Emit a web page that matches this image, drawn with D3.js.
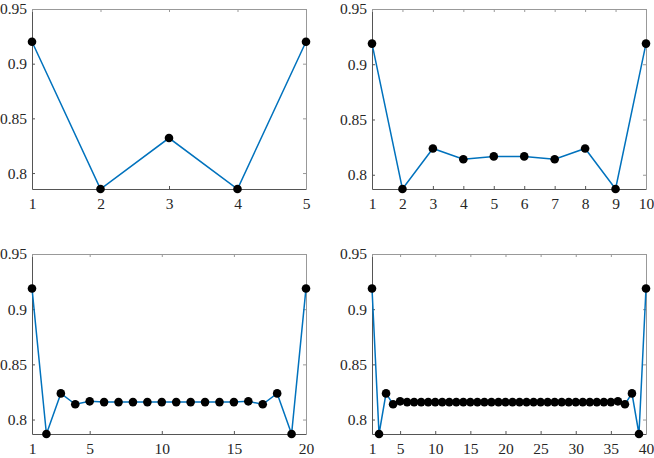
<!DOCTYPE html>
<html>
<head>
<meta charset="utf-8">
<script src="https://cdn.jsdelivr.net/npm/d3@7"></script>
<style>
  body { margin: 0; background: #fff; }
</style>
</head>
<body>
<svg id="chart" width="654" height="458"></svg>
<script>
// values
const vals5 = [0.92, 0.7854, 0.832, 0.7854, 0.92];
const vals10 = [0.9187, 0.7871, 0.8238, 0.8140, 0.8166, 0.8166, 0.8140, 0.8238, 0.7871, 0.9187];
const vals20 = [0.9188, 0.7869, 0.8237, 0.8138, 0.8165, 0.8158, 0.8158, 0.8158, 0.8158, 0.8158,
                0.8158, 0.8158, 0.8158, 0.8158, 0.8158, 0.8165, 0.8138, 0.8237, 0.7869, 0.9188];
const vals40 = [0.9188, 0.7869, 0.8237, 0.8138, 0.8165, 0.8158, 0.8158, 0.8158, 0.8158, 0.8158,
                0.8158, 0.8158, 0.8158, 0.8158, 0.8158, 0.8158, 0.8158, 0.8158, 0.8158, 0.8158,
                0.8158, 0.8158, 0.8158, 0.8158, 0.8158, 0.8158, 0.8158, 0.8158, 0.8158, 0.8158,
                0.8158, 0.8158, 0.8158, 0.8158, 0.8158, 0.8165, 0.8138, 0.8237, 0.7869, 0.9188];

const xTicks5 = [1, 2, 3, 4, 5];
const xTicks10 = [1, 2, 3, 4, 5, 6, 7, 8, 9, 10];
const xTicks20 = [1, 5, 10, 15, 20];
const xTicks40 = [1, 5, 10, 15, 20, 25, 30, 35, 40];
const yTicks = [0.8, 0.85, 0.9, 0.95];

const svg = d3.select("#chart");

function drawPanel(vals, xTicks, left, top) {
    const width = 274, height = 180;
    const g = svg.append("g").attr("transform", `translate(${left},${top})`);

    const x = d3.scaleLinear().domain([1, vals.length]).range([0, width]);
    const y = d3.scaleLinear().domain([d3.min(vals), 0.95]).range([height, 0]);

    const fmt = d => String(d);

    // bottom / left with labels, top / right mirrored without
    const xAxis = g.append("g").attr("transform", `translate(0,${height})`)
        .call(d3.axisBottom(x).tickValues(xTicks).tickFormat(fmt).tickSizeInner(-3).tickSizeOuter(0).tickPadding(9));
    const yAxis = g.append("g")
        .call(d3.axisLeft(y).tickValues(yTicks).tickFormat(fmt).tickSizeInner(-3).tickSizeOuter(0).tickPadding(5));
    const xTop = g.append("g")
        .call(d3.axisTop(x).tickValues(xTicks).tickFormat("").tickSizeInner(-3).tickSizeOuter(0));
    const yRight = g.append("g").attr("transform", `translate(${width},0)`)
        .call(d3.axisRight(y).tickValues(yTicks).tickFormat("").tickSizeInner(-3).tickSizeOuter(0));

    [xAxis, yAxis].forEach(a => {
        a.attr("font-family", "'Liberation Serif', 'Times New Roman', serif").attr("font-size", 15.5);
        a.selectAll("text").attr("fill", "#262626");
        a.select(".domain").attr("stroke", "#555");
        a.selectAll(".tick line").attr("stroke", "#555");
    });
    [xTop, yRight].forEach(a => {
        a.select(".domain").attr("stroke", "#999");
        a.selectAll(".tick line").attr("stroke", "#999");
    });

    const line = d3.line()
        .x((d, i) => x(i + 1))
        .y(d => y(d));

    g.append("path")
        .datum(vals)
        .attr("fill", "none")
        .attr("stroke", "#0072BD")
        .attr("stroke-width", 1.5)
        .attr("d", line);

    g.selectAll("circle")
        .data(vals)
        .enter()
        .append("circle")
        .attr("cx", (d, i) => x(i + 1))
        .attr("cy", d => y(d))
        .attr("r", 4.3)
        .attr("fill", "#000");
}

drawPanel(vals5, xTicks5, 32, 9);
drawPanel(vals10, xTicks10, 372, 9);
drawPanel(vals20, xTicks20, 32, 254);
drawPanel(vals40, xTicks40, 372, 254);
</script>
</body>
</html>
